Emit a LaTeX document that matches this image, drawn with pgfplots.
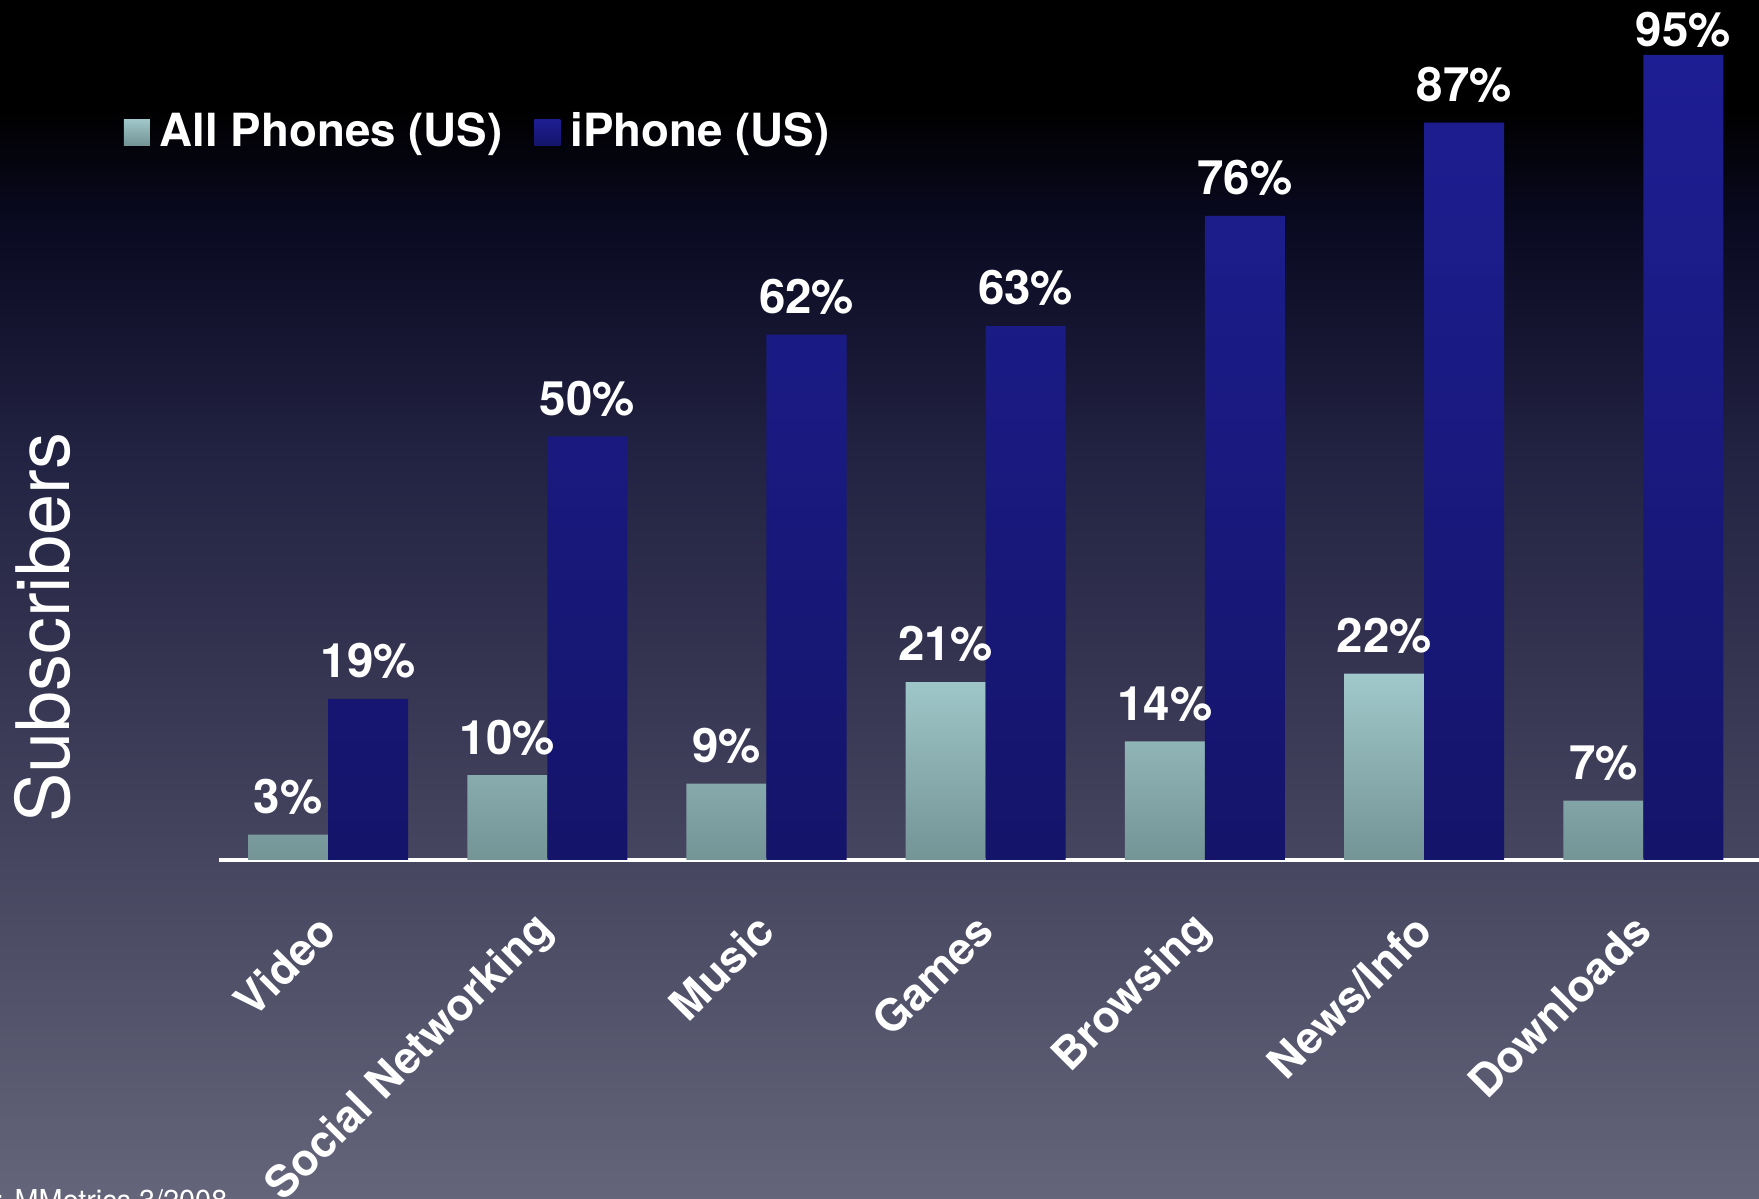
\documentclass[border=0pt]{standalone}
\usepackage{pgfplots}
\pgfplotsset{compat=1.18}
\usepackage{fontspec}
\setmainfont{TeX Gyre Heros}
\definecolor{tealtop}{RGB}{160,200,202}
\definecolor{tealbot}{RGB}{116,148,150}
\definecolor{bluetop}{RGB}{30,30,148}
\definecolor{bluebot}{RGB}{20,20,106}
\definecolor{bgA}{RGB}{100,100,122}
\definecolor{bgB}{RGB}{70,70,96}
\definecolor{bgC}{RGB}{34,34,66}
\definecolor{bgD}{RGB}{10,10,34}
\pgfdeclareverticalshading{bgshade}{100bp}{color(0bp)=(bgA); color(25bp)=(bgA); color(39bp)=(bgB); color(56bp)=(bgC); color(65.5bp)=(bgD); color(70.5bp)=(black); color(100bp)=(black)}
\begin{document}
\begin{tikzpicture}
\path[use as bounding box] (0,0) rectangle (175.9mm,119.9mm);
\clip (0,0) rectangle (175.9mm,119.9mm);
\shade[shading=bgshade] (0,0) rectangle (175.9mm,119.9mm);
\node[rotate=90, text=white, font=\fontsize{21}{25}\selectfont] at (4.3mm,57.1mm) {Subscribers};
\node[anchor=base east, text=white, font=\fontsize{8.2}{10}\selectfont, inner sep=0pt] at (22.8mm,-1.2mm) {Source: MMetrics 3/2008};
\begin{axis}[
  at={(21.9mm,33.9mm)}, anchor=south west,
  scale only axis, width=154mm, height=84.74mm,
  xmin=-0.4977, xmax=6.528, ymin=0, ymax=100,
  hide y axis,
  axis x line*=bottom,
  x axis line style={white, line width=0.9pt},
  xtick=data,
  xticklabels={Video,Social Networking,Music,Games,Browsing,News/Info,Downloads},
  xtick style={draw=none},
  xticklabel style={xshift=0.8mm, yshift=-3.9mm, rotate=45, anchor=east, text=white, font=\fontsize{12.6}{15}\selectfont\bfseries},
  ybar, bar width=0.365,
  clip=false,
  point meta=y,
  /pgf/number format/assume math mode=true,
  visualization depends on=rawy \as \rawy,
  nodes near coords={\pgfmathprintnumber[fixed,precision=0,assume math mode=true]{\pgfplotspointmeta}\%},
  every node near coord/.append style={text=white, font=\fontsize{13.5}{16}\selectfont\bfseries,
    yshift={(\rawy>90 ? -0.45 : 0.78)*1mm}},
  legend image code/.code={\fill[#1] (0mm,-1.3mm) rectangle (2.6mm,1.3mm);},
  legend columns=2,
  legend style={at={(rel axis cs:-0.0623,0.859)}, anchor=west, draw=none, fill=none, inner sep=0pt,
    nodes={inner sep=0pt, text=white, font=\fontsize{13}{15}\selectfont\bfseries},
    /tikz/every odd column/.append style={column sep=1mm},
    /tikz/every even column/.append style={column sep=3.2mm}},
]
\addplot[draw=none, top color=tealtop, bottom color=tealbot, bar shift=-0.1825]
  coordinates {(0,3) (1,10) (2,9) (3,21) (4,14) (5,22) (6,7)};
\addplot[draw=none, top color=bluetop, bottom color=bluebot, bar shift=0.1825]
  coordinates {(0,19) (1,50) (2,62) (3,63) (4,76) (5,87) (6,95)};
\legend{All Phones (US), iPhone (US)}
\end{axis}
\end{tikzpicture}
\end{document}
